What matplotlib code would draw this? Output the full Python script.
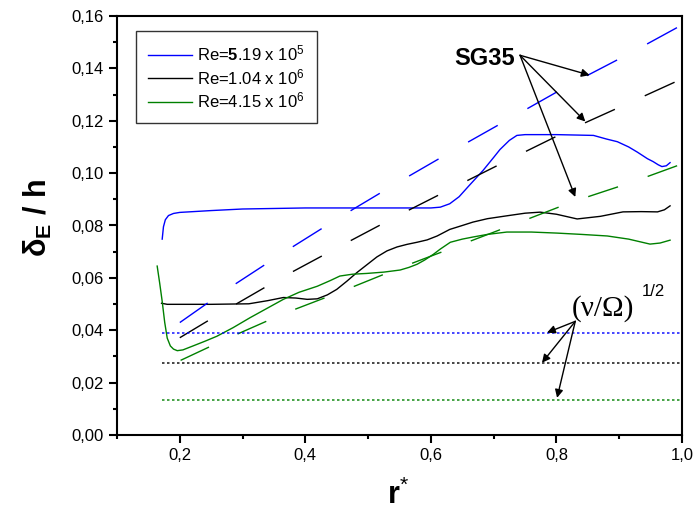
import numpy as np
import matplotlib.pyplot as plt
from matplotlib.ticker import MultipleLocator, FuncFormatter

plt.rcParams['font.family'] = ['Liberation Sans', 'DejaVu Sans']
plt.rcParams['mathtext.fontset'] = 'custom'
plt.rcParams['mathtext.rm'] = 'Liberation Sans'
plt.rcParams['mathtext.it'] = 'Liberation Sans'
plt.rcParams['mathtext.bf'] = 'Liberation Sans:bold'

# measured profiles (solid lines)
r_blue = [0.172, 0.174, 0.177, 0.182, 0.19, 0.2, 0.25, 0.3, 0.4, 0.5, 0.6, 0.615, 0.63,
          0.645, 0.66, 0.683, 0.70, 0.71, 0.725, 0.737, 0.75, 0.8, 0.859, 0.88, 0.897,
          0.915, 0.929, 0.945, 0.954, 0.962, 0.968, 0.975, 0.981]
d_blue = [0.0748, 0.0795, 0.0822, 0.0838, 0.0846, 0.085, 0.0857, 0.0863, 0.0867, 0.0867,
          0.0867, 0.087, 0.0883, 0.091, 0.095, 0.101, 0.106, 0.109, 0.1125, 0.1144, 0.1147,
          0.1147, 0.1144, 0.113, 0.112, 0.110, 0.108, 0.1055, 0.1044, 0.1032, 0.1025,
          0.1028, 0.104]

r_black = [0.171, 0.18, 0.2, 0.25, 0.31, 0.34, 0.365, 0.385, 0.403, 0.419, 0.435, 0.45,
           0.466, 0.482, 0.498, 0.514, 0.53, 0.546, 0.562, 0.578, 0.594, 0.61, 0.63, 0.65,
           0.667, 0.69, 0.721, 0.75, 0.774, 0.8, 0.833, 0.87, 0.906, 0.935, 0.961, 0.972,
           0.981]
d_black = [0.0503, 0.0499, 0.0499, 0.0499, 0.0501, 0.0513, 0.0525, 0.0523, 0.0518, 0.052,
           0.0535, 0.0556, 0.0587, 0.062, 0.065, 0.068, 0.0703, 0.0718, 0.0728, 0.0736,
           0.0745, 0.076, 0.0785, 0.08, 0.0813, 0.0826, 0.0837, 0.0847, 0.0851, 0.0843,
           0.0825, 0.0835, 0.0852, 0.0853, 0.0852, 0.086, 0.0875]

r_green = [0.164, 0.168, 0.172, 0.176, 0.18, 0.185, 0.19, 0.196, 0.205, 0.221, 0.24, 0.259,
           0.285, 0.312, 0.34, 0.365, 0.39, 0.419, 0.44, 0.455, 0.475, 0.498, 0.525, 0.551,
           0.565, 0.578, 0.59, 0.604, 0.615, 0.631, 0.65, 0.667, 0.69, 0.721, 0.76, 0.801,
           0.84, 0.881, 0.915, 0.949, 0.965, 0.981]
d_green = [0.0645, 0.058, 0.051, 0.043, 0.037, 0.034, 0.0328, 0.0322, 0.0325, 0.034, 0.0358,
           0.0377, 0.041, 0.0448, 0.0485, 0.0518, 0.0545, 0.0568, 0.059, 0.0607, 0.0614,
           0.0617, 0.0622, 0.063, 0.064, 0.0652, 0.0668, 0.069, 0.071, 0.0736, 0.0748,
           0.0756, 0.0766, 0.0775, 0.0775, 0.0771, 0.0766, 0.076, 0.0748, 0.0729, 0.0733,
           0.0744]

# SG35 correlation (dashed)
r_sg = [0.1717, 0.2004, 0.2753, 0.3661, 0.4586, 0.5494, 0.6418, 0.7343, 0.8251, 0.9175, 1.0]
sg_blue = [0.0388, 0.0430, 0.0556, 0.0698, 0.0837, 0.0967, 0.1095, 0.1220, 0.1343, 0.1458, 0.1566]
sg_black = [0.0330, 0.0372, 0.0480, 0.0606, 0.0725, 0.0840, 0.0952, 0.1063, 0.1170, 0.1270, 0.1360]
sg_green = [0.0249, 0.0284, 0.0368, 0.0464, 0.0549, 0.0637, 0.0721, 0.0806, 0.0890, 0.0963, 0.1035]

# (nu/Omega)^1/2 levels (dotted)
r_ek = [0.1717, 1.0]
ek_blue = 0.0388
ek_black = 0.0276
ek_green = 0.0134

labels = [r'Re=$\mathbf{5}$.19 x 10$^5$', r'Re=1.04 x 10$^6$', r'Re=4.15 x 10$^6$']
colors = ['#0000ff', '#000000', '#008000']

fig = plt.figure(figsize=(6.93, 5.11), dpi=100)
ax = fig.add_axes([117 / 693, 76 / 511, 565 / 693, 419 / 511])

ax.plot(r_blue, d_blue, color=colors[0], lw=1.0, label=labels[0])
ax.plot(r_black, d_black, color=colors[1], lw=1.0, label=labels[1])
ax.plot(r_green, d_green, color=colors[2], lw=1.0, label=labels[2])

for d, c, p in zip([sg_blue, sg_black, sg_green], colors, [24.5, 23.6, 22.6]):
    ax.plot(r_sg, d, color=c, lw=1.0, linestyle=(2 * p - 15, (p, p)))

for lev, c in zip([ek_blue, ek_black, ek_green], colors):
    ax.plot(r_ek, [lev, lev], color=c, lw=1.2, linestyle=(0, (1.5, 1.5)), alpha=0.85)

ax.set_xlim(0.1, 1.0)
ax.set_ylim(0.0, 0.16)
ax.xaxis.set_major_locator(MultipleLocator(0.2))
ax.xaxis.set_minor_locator(MultipleLocator(0.1))
ax.yaxis.set_major_locator(MultipleLocator(0.02))
ax.yaxis.set_minor_locator(MultipleLocator(0.01))
ax.xaxis.set_major_formatter(FuncFormatter(lambda v, p: f'{v:.1f}'.replace('.', ',')))
ax.yaxis.set_major_formatter(FuncFormatter(lambda v, p: f'{v:.2f}'.replace('.', ',')))
ax.tick_params(which='both', direction='out', width=1.5, labelsize=12, top=False, right=False)
ax.tick_params(which='major', length=6)
ax.tick_params(which='minor', length=3)
for s in ax.spines.values():
    s.set_linewidth(1.5)

ax.set_xlabel(r'r$^{*}$', fontsize=22, fontweight='bold')
ax.xaxis.set_label_coords(0.497, -0.143)
ax.xaxis.label.set_va('center')
ax.set_ylabel(r'δ$_\mathbf{E}$ / h', fontsize=22, fontweight='bold')
ax.yaxis.set_label_coords(-0.14, 0.517)
ax.yaxis.label.set_va('center')

leg = ax.legend(loc='upper left', bbox_to_anchor=(0.0336, 0.964), fontsize=12,
                frameon=True, fancybox=False, edgecolor='black', borderaxespad=0,
                handlelength=2.6, handletextpad=0.3, labelspacing=0.22,
                borderpad=0.75)
leg.get_frame().set_linewidth(1.0)

ax.text(0.685, 0.1439, 'SG35', fontsize=17, fontweight='bold', ha='center', va='center')
arrow = dict(arrowstyle='-|>', color='black', lw=1.0, mutation_scale=12, shrinkA=0, shrinkB=0)
for tx, ty in [(0.853, 0.1374), (0.846, 0.1197), (0.83, 0.0909)]:
    ax.annotate('', xy=(tx, ty), xytext=(0.742, 0.145), arrowprops=arrow)

ax.text(0.8745, 0.0483, '(ν/Ω)', fontsize=21, family=['Liberation Serif', 'DejaVu Serif'],
        ha='center', va='center')
ax.text(0.955, 0.0548, '1/2', fontsize=12, ha='center', va='center')
for tx, ty in [(0.785, 0.0391), (0.777, 0.0276), (0.801, 0.0142)]:
    ax.annotate('', xy=(tx, ty), xytext=(0.830, 0.0434), arrowprops=arrow)

fig.savefig('out.png', dpi=100)
